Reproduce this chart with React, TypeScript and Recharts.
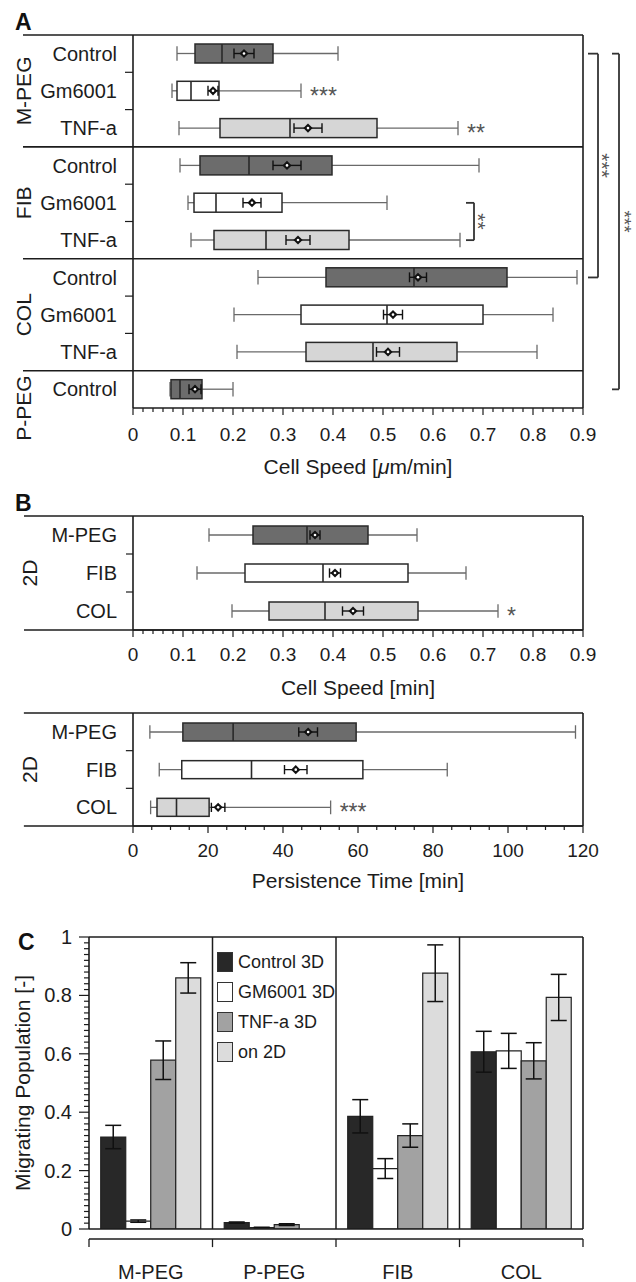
import React from 'react';
import { ComposedChart, BarChart, Bar, XAxis, YAxis, ReferenceLine, ErrorBar, Legend, Label } from 'recharts';

const INK = '#1c1c1c';
const FONT = '"Liberation Sans", Arial, Helvetica, sans-serif';
const WHISKER = '#6a6a6a';
const EDGE = '#2a2a2a';
const DARK = '#6c6c6c';
const WHITE = '#ffffff';
const LIGHT = '#d6d6d6';

// ---------------- Panel A : 3D cell speed ----------------
const speedRowIds = ['mpeg-ctrl', 'mpeg-gm', 'mpeg-tnf', 'fib-ctrl', 'fib-gm', 'fib-tnf', 'col-ctrl', 'col-gm', 'col-tnf', 'ppeg-ctrl'];
const speedRowLabels = ['Control', 'Gm6001', 'TNF-a', 'Control', 'Gm6001', 'TNF-a', 'Control', 'Gm6001', 'TNF-a', 'Control'];
const speedMin = [0.088, 0.078, 0.092, 0.094, 0.110, 0.116, 0.250, 0.202, 0.208, 0.074];
const speedQ1 = [0.124, 0.088, 0.174, 0.134, 0.122, 0.162, 0.386, 0.336, 0.346, 0.076];
const speedMedian = [0.178, 0.116, 0.314, 0.232, 0.166, 0.266, 0.562, 0.508, 0.480, 0.094];
const speedQ3 = [0.280, 0.172, 0.488, 0.398, 0.298, 0.432, 0.748, 0.700, 0.648, 0.138];
const speedMax = [0.410, 0.336, 0.650, 0.692, 0.508, 0.654, 0.888, 0.840, 0.808, 0.200];
const speedMean = [0.222, 0.160, 0.350, 0.308, 0.238, 0.330, 0.570, 0.520, 0.510, 0.124];
const speedSem = [0.020, 0.010, 0.028, 0.028, 0.018, 0.024, 0.017, 0.019, 0.023, 0.012];
const speedSig = ['', '***', '**', '', '', '', '', '', '', ''];

// ---------------- Panel B : 2D speed & persistence ----------------
const planarRows = ['M-PEG', 'FIB', 'COL'];
const planarSpeedMin = [0.152, 0.128, 0.198];
const planarSpeedQ1 = [0.240, 0.224, 0.272];
const planarSpeedMedian = [0.348, 0.380, 0.384];
const planarSpeedQ3 = [0.470, 0.550, 0.570];
const planarSpeedMax = [0.568, 0.666, 0.730];
const planarSpeedMean = [0.364, 0.404, 0.440];
const planarSpeedSem = [0.010, 0.011, 0.021];
const planarSpeedSig = ['', '', '*'];

const persistMin = [4.5, 7.0, 4.7];
const persistQ1 = [13.3, 13.0, 6.4];
const persistMedian = [26.7, 31.6, 11.6];
const persistQ3 = [59.5, 61.3, 20.3];
const persistMax = [118.0, 83.8, 52.7];
const persistMean = [46.7, 43.4, 22.7];
const persistSem = [2.5, 3.0, 1.8];
const persistSig = ['', '', '***'];

// ---------------- Panel C : migrating population ----------------
const popGroups = ['M-PEG', 'P-PEG', 'FIB', 'COL'];
const popControl3D = [0.315, 0.022, 0.386, 0.607];
const popControl3DErr = [0.040, 0.002, 0.057, 0.070];
const popGm3D = [0.027, 0.005, 0.207, 0.610];
const popGm3DErr = [0.004, 0.001, 0.034, 0.060];
const popTnf3D = [0.578, 0.015, 0.320, 0.576];
const popTnf3DErr = [0.066, 0.003, 0.040, 0.062];
const pop2D = [0.860, null, 0.876, 0.793];
const pop2DErr = [0.052, null, 0.097, 0.079];

// ---------------- ticks ----------------
const speedMajorTicks = [0, 0.1, 0.2, 0.3, 0.4, 0.5, 0.6, 0.7, 0.8, 0.9];
const speedTickLabels = ['0', '0.1', '0.2', '0.3', '0.4', '0.5', '0.6', '0.7', '0.8', '0.9'];
const persistMajorTicks = [0, 20, 40, 60, 80, 100, 120];
const persistTickLabels = ['0', '20', '40', '60', '80', '100', '120'];
const popMajorTicks = [0, 0.2, 0.4, 0.6, 0.8, 1];
const popTickLabels = ['0', '0.2', '0.4', '0.6', '0.8', '1'];

const tickRange = (max: number, step: number) => {
  const out: number[] = [];
  const n = Math.round(max / step);
  for (let i = 0; i <= n; i++) out.push(Math.round(i * step * 10000) / 10000);
  return out;
};
const speedAllTicks = tickRange(0.9, 0.02);
const persistAllTicks = tickRange(120, 5);
const popAllTicks = tickRange(1, 0.02);

// ---------------- tables ----------------
const speedData = speedRowIds.map((id, i) => ({
  id, label: speedRowLabels[i], range: [speedMin[i], speedMax[i]], q1: speedQ1[i], median: speedMedian[i],
  q3: speedQ3[i], mean: speedMean[i], sem: speedSem[i], sig: speedSig[i],
}));
const planarSpeedData = planarRows.map((id, i) => ({
  id, label: id, range: [planarSpeedMin[i], planarSpeedMax[i]], q1: planarSpeedQ1[i], median: planarSpeedMedian[i],
  q3: planarSpeedQ3[i], mean: planarSpeedMean[i], sem: planarSpeedSem[i], sig: planarSpeedSig[i],
}));
const persistData = planarRows.map((id, i) => ({
  id, label: id, range: [persistMin[i], persistMax[i]], q1: persistQ1[i], median: persistMedian[i],
  q3: persistQ3[i], mean: persistMean[i], sem: persistSem[i], sig: persistSig[i],
}));
const popData = popGroups.map((group, i) => ({
  group, ctrl: popControl3D[i], ctrlErr: popControl3DErr[i], gm: popGm3D[i], gmErr: popGm3DErr[i],
  tnf: popTnf3D[i], tnfErr: popTnf3DErr[i], d2: pop2D[i], d2Err: pop2DErr[i],
}));

const treatmentTone: Record<string, string> = { Control: DARK, Gm6001: WHITE, 'TNF-a': LIGHT };
const substrateTone: Record<string, string> = { 'M-PEG': DARK, FIB: WHITE, COL: LIGHT };

// ---------------- renderers ----------------
const makeBoxShape = (fillOf: (d: any) => string) => (props: any) => {
  const { x, y, width, height, payload } = props;
  if (!payload) return null;
  const [lo, hi] = payload.range;
  const px = (v: number) => x + ((v - lo) / (hi - lo)) * width;
  const cy = y + height / 2;
  const capHalf = height * 0.38;
  const semHalf = height * 0.26;
  const xq1 = px(payload.q1);
  const xq3 = px(payload.q3);
  const xmed = px(payload.median);
  const xm = px(payload.mean);
  const xs1 = px(payload.mean - payload.sem);
  const xs2 = px(payload.mean + payload.sem);
  const d = 4.6;
  return (
    <g>
      <line x1={x} x2={xq1} y1={cy} y2={cy} stroke={WHISKER} strokeWidth={1.3} />
      <line x1={xq3} x2={x + width} y1={cy} y2={cy} stroke={WHISKER} strokeWidth={1.3} />
      <line x1={x} x2={x} y1={cy - capHalf} y2={cy + capHalf} stroke={WHISKER} strokeWidth={1.3} />
      <line x1={x + width} x2={x + width} y1={cy - capHalf} y2={cy + capHalf} stroke={WHISKER} strokeWidth={1.3} />
      <rect x={xq1} y={y} width={xq3 - xq1} height={height} fill={fillOf(payload)} stroke={EDGE} strokeWidth={1.5} />
      <line x1={xmed} x2={xmed} y1={y} y2={y + height} stroke={EDGE} strokeWidth={1.6} />
      <line x1={xs1} x2={xs2} y1={cy} y2={cy} stroke="#111" strokeWidth={1.4} />
      <line x1={xs1} x2={xs1} y1={cy - semHalf} y2={cy + semHalf} stroke="#111" strokeWidth={1.4} />
      <line x1={xs2} x2={xs2} y1={cy - semHalf} y2={cy + semHalf} stroke="#111" strokeWidth={1.4} />
      <polygon points={`${xm},${cy - d} ${xm + d},${cy} ${xm},${cy + d} ${xm - d},${cy}`} fill="#111" />
      <circle cx={xm} cy={cy} r={1.3} fill="#fff" />
      {payload.sig ? (
        <text x={x + width + 9} y={cy + 13} fontSize={23} fill="#555">{payload.sig}</text>
      ) : null}
    </g>
  );
};

const makeXTick = (majors: number[], labels: string[], labelDy: number) => (props: any) => {
  const { x, y, payload } = props;
  const idx = majors.findIndex((m) => Math.abs(m - payload.value) < 1e-6);
  const major = idx >= 0;
  return (
    <g>
      <line x1={x} x2={x} y1={y} y2={y + (major ? 7 : 4)} stroke={INK} strokeWidth={1.2} />
      {major ? (
        <text x={x} y={y + labelDy} textAnchor="middle" dominantBaseline="central" fontSize={19} fill={INK}>{labels[idx]}</text>
      ) : null}
    </g>
  );
};

const PopYTick = (props: any) => {
  const { x, y, payload } = props;
  const idx = popMajorTicks.findIndex((m) => Math.abs(m - payload.value) < 1e-6);
  const major = idx >= 0;
  return (
    <g>
      <line x1={x - (major ? 10 : 5)} x2={x} y1={y} y2={y} stroke={INK} strokeWidth={1.2} />
      {major ? (
        <text x={x - 17} y={y} textAnchor="end" dominantBaseline="central" fontSize={20} fill={INK}>{popTickLabels[idx]}</text>
      ) : null}
    </g>
  );
};

const PopXTick = (props: any) => (
  <text x={props.x} y={props.y + 43} textAnchor="middle" dominantBaseline="central" fontSize={20} fill={INK}>
    {props.payload.value}
  </text>
);

const axisTitle = (content: React.ReactNode, dy: number) => (p: any) => {
  const vb = p.viewBox || { x: 0, y: 0, width: 0, height: 0 };
  return (
    <text x={vb.x + vb.width / 2} y={vb.y + dy} textAnchor="middle" dominantBaseline="central" fontSize={21} fill={INK}>
      {content}
    </text>
  );
};

const popYTitle = (p: any) => {
  const vb = p.viewBox || { x: 0, y: 0, width: 0, height: 0 };
  const cx = vb.x + 22;
  const cy = vb.y + vb.height / 2;
  return (
    <text x={cx} y={cy} transform={`rotate(-90 ${cx} ${cy})`} textAnchor="middle" dominantBaseline="central" fontSize={21} fill={INK}>
      Migrating Population [-]
    </text>
  );
};

const renderPopLegend = (props: any) => {
  const items = props.payload || [];
  return (
    <div style={{ fontFamily: FONT }}>
      {items.map((it: any) => (
        <div key={it.value} style={{ display: 'flex', alignItems: 'center', height: 30 }}>
          <span style={{ display: 'inline-block', width: 14, height: 18, background: it.color, border: '1.5px solid #333', marginRight: 5 }} />
          <span style={{ fontSize: 18, color: INK, whiteSpace: 'nowrap' }}>{it.value}</span>
        </div>
      ))}
    </div>
  );
};

const letterStyle = (left: number, top: number): React.CSSProperties => ({
  position: 'absolute', left, top, fontSize: 23, lineHeight: '23px', fontWeight: 'bold', color: '#111', fontFamily: FONT,
});

const frame = { stroke: INK, strokeWidth: 1.6 };
const starLabel = (value: string, size = 21) => ({ value, position: 'center' as const, angle: 90, fontSize: size, fill: '#555' });
const groupLabel = (value: string) => ({ value, position: 'center' as const, angle: -90, fontSize: 21, fill: INK });

const boxShapeA = makeBoxShape((d) => treatmentTone[d.label]);
const boxShapeB = makeBoxShape((d) => substrateTone[d.label]);
const speedXTickA = makeXTick(speedMajorTicks, speedTickLabels, 26);
const speedXTickB = makeXTick(speedMajorTicks, speedTickLabels, 24);
const persistXTick = makeXTick(persistMajorTicks, persistTickLabels, 24);

const labelOfSpeed = (id: string) => speedData.find((r) => r.id === id)?.label ?? id;

export default function App() {
  return (
    <div style={{ position: 'absolute', left: 0, top: 0, width: 636, height: 1282, background: '#fff', fontFamily: FONT, color: INK, overflow: 'hidden' }}>
      <div style={letterStyle(15, 11)}>A</div>
      <div style={letterStyle(15, 492)}>B</div>
      <div style={letterStyle(18, 931)}>C</div>

      {/* Panel A */}
      <div style={{ position: 'absolute', left: 0, top: 0 }}>
        <ComposedChart width={636} height={480} data={speedData} layout="vertical" margin={{ top: 35, right: 53, bottom: 0, left: 0 }}>
          <XAxis type="number" domain={[0, 0.9]} ticks={speedAllTicks} interval={0} tickLine={false} tickSize={0} tickMargin={0}
            axisLine={frame} height={72} tick={speedXTickA} allowDataOverflow
            label={<Label content={axisTitle(<>Cell Speed [<tspan fontStyle="italic">μ</tspan>m/min]</>, 58)} />} />
          <YAxis type="category" dataKey="id" width={133} interval={0} tickLine={false} tickSize={0} tickMargin={16}
            axisLine={frame} tick={{ fontSize: 20, fill: INK }} tickFormatter={labelOfSpeed} />
          <Bar dataKey="range" barSize={19} shape={boxShapeA} isAnimationActive={false} />
          {/* frame and group separators */}
          {['mpeg-ctrl', 'fib-ctrl', 'col-ctrl', 'ppeg-ctrl'].map((id) => (
            <ReferenceLine key={'sep' + id} segment={[{ x: -0.22, y: id }, { x: 0.9, y: id }]} position="start" ifOverflow="visible" {...frame} />
          ))}
          <ReferenceLine x={0.9} ifOverflow="visible" {...frame} />
          {['mpeg-gm', 'mpeg-tnf', 'fib-gm', 'fib-tnf', 'col-gm', 'col-tnf'].map((id) => (
            <ReferenceLine key={'tk' + id} segment={[{ x: -0.016, y: id }, { x: 0, y: id }]} position="start" ifOverflow="visible" stroke={INK} strokeWidth={1.2} />
          ))}
          {/* group labels */}
          <ReferenceLine segment={[{ x: -0.219, y: 'mpeg-ctrl' }, { x: -0.219, y: 'mpeg-tnf' }]} ifOverflow="visible" stroke="none" label={groupLabel('M-PEG')} />
          <ReferenceLine segment={[{ x: -0.219, y: 'fib-ctrl' }, { x: -0.219, y: 'fib-tnf' }]} ifOverflow="visible" stroke="none" label={groupLabel('FIB')} />
          <ReferenceLine segment={[{ x: -0.219, y: 'col-ctrl' }, { x: -0.219, y: 'col-tnf' }]} ifOverflow="visible" stroke="none" label={groupLabel('COL')} />
          <ReferenceLine segment={[{ x: -0.219, y: 'ppeg-ctrl' }, { x: -0.219, y: 'ppeg-ctrl' }]} position="end" ifOverflow="visible" stroke="none" label={groupLabel('P-PEG')} />
          {/* FIB bracket */}
          <ReferenceLine segment={[{ x: 0.666, y: 'fib-gm' }, { x: 0.682, y: 'fib-gm' }]} ifOverflow="visible" stroke="#333" strokeWidth={1.8} />
          <ReferenceLine segment={[{ x: 0.682, y: 'fib-gm' }, { x: 0.682, y: 'fib-tnf' }]} ifOverflow="visible" stroke="#333" strokeWidth={1.8} />
          <ReferenceLine segment={[{ x: 0.666, y: 'fib-tnf' }, { x: 0.682, y: 'fib-tnf' }]} ifOverflow="visible" stroke="#333" strokeWidth={1.8} />
          <ReferenceLine segment={[{ x: 0.691, y: 'fib-gm' }, { x: 0.691, y: 'fib-tnf' }]} ifOverflow="visible" stroke="none" label={starLabel('**')} />
          {/* M-PEG vs COL bracket */}
          <ReferenceLine segment={[{ x: 0.91, y: 'mpeg-ctrl' }, { x: 0.93, y: 'mpeg-ctrl' }]} ifOverflow="visible" stroke="#333" strokeWidth={1.8} />
          <ReferenceLine segment={[{ x: 0.93, y: 'mpeg-ctrl' }, { x: 0.93, y: 'col-ctrl' }]} ifOverflow="visible" stroke="#333" strokeWidth={1.8} />
          <ReferenceLine segment={[{ x: 0.91, y: 'col-ctrl' }, { x: 0.93, y: 'col-ctrl' }]} ifOverflow="visible" stroke="#333" strokeWidth={1.8} />
          <ReferenceLine segment={[{ x: 0.939, y: 'mpeg-ctrl' }, { x: 0.939, y: 'col-ctrl' }]} ifOverflow="visible" stroke="none" label={starLabel('***')} />
          {/* M-PEG vs P-PEG bracket */}
          <ReferenceLine segment={[{ x: 0.958, y: 'mpeg-ctrl' }, { x: 0.972, y: 'mpeg-ctrl' }]} ifOverflow="visible" stroke="#333" strokeWidth={1.8} />
          <ReferenceLine segment={[{ x: 0.972, y: 'mpeg-ctrl' }, { x: 0.972, y: 'ppeg-ctrl' }]} ifOverflow="visible" stroke="#333" strokeWidth={1.8} />
          <ReferenceLine segment={[{ x: 0.958, y: 'ppeg-ctrl' }, { x: 0.972, y: 'ppeg-ctrl' }]} ifOverflow="visible" stroke="#333" strokeWidth={1.8} />
          <ReferenceLine segment={[{ x: 0.983, y: 'fib-gm' }, { x: 0.983, y: 'fib-tnf' }]} ifOverflow="visible" stroke="none" label={starLabel('***', 19)} />
        </ComposedChart>
      </div>

      {/* Panel B : 2D speed */}
      <div style={{ position: 'absolute', left: 0, top: 480 }}>
        <ComposedChart width={636} height={220} data={planarSpeedData} layout="vertical" margin={{ top: 36, right: 53, bottom: 0, left: 0 }}>
          <XAxis type="number" domain={[0, 0.9]} ticks={speedAllTicks} interval={0} tickLine={false} tickSize={0} tickMargin={0}
            axisLine={frame} height={70} tick={speedXTickB} allowDataOverflow
            label={<Label content={axisTitle('Cell Speed [min]', 57)} />} />
          <YAxis type="category" dataKey="id" width={133} interval={0} tickLine={false} tickSize={0} tickMargin={16}
            axisLine={frame} tick={{ fontSize: 20, fill: INK }} />
          <Bar dataKey="range" barSize={18} shape={boxShapeB} isAnimationActive={false} />
          <ReferenceLine segment={[{ x: -0.218, y: 'M-PEG' }, { x: 0.9, y: 'M-PEG' }]} position="start" ifOverflow="visible" {...frame} />
          <ReferenceLine segment={[{ x: -0.218, y: 'COL' }, { x: 0.9, y: 'COL' }]} position="end" ifOverflow="visible" {...frame} />
          <ReferenceLine x={0.9} ifOverflow="visible" {...frame} />
          {['FIB', 'COL'].map((id) => (
            <ReferenceLine key={'tb' + id} segment={[{ x: -0.014, y: id }, { x: 0, y: id }]} position="start" ifOverflow="visible" stroke={INK} strokeWidth={1.2} />
          ))}
          <ReferenceLine segment={[{ x: -0.206, y: 'M-PEG' }, { x: -0.206, y: 'COL' }]} ifOverflow="visible" stroke="none" label={groupLabel('2D')} />
        </ComposedChart>
      </div>

      {/* Panel B : persistence */}
      <div style={{ position: 'absolute', left: 0, top: 700 }}>
        <ComposedChart width={636} height={196} data={persistData} layout="vertical" margin={{ top: 13, right: 53, bottom: 0, left: 0 }}>
          <XAxis type="number" domain={[0, 120]} ticks={persistAllTicks} interval={0} tickLine={false} tickSize={0} tickMargin={0}
            axisLine={frame} height={70} tick={persistXTick} allowDataOverflow
            label={<Label content={axisTitle('Persistence Time [min]', 54)} />} />
          <YAxis type="category" dataKey="id" width={133} interval={0} tickLine={false} tickSize={0} tickMargin={16}
            axisLine={frame} tick={{ fontSize: 20, fill: INK }} />
          <Bar dataKey="range" barSize={18} shape={boxShapeB} isAnimationActive={false} />
          <ReferenceLine segment={[{ x: -29.1, y: 'M-PEG' }, { x: 120, y: 'M-PEG' }]} position="start" ifOverflow="visible" {...frame} />
          <ReferenceLine segment={[{ x: -29.1, y: 'COL' }, { x: 120, y: 'COL' }]} position="end" ifOverflow="visible" {...frame} />
          <ReferenceLine x={120} ifOverflow="visible" {...frame} />
          {['FIB', 'COL'].map((id) => (
            <ReferenceLine key={'tp' + id} segment={[{ x: -1.9, y: id }, { x: 0, y: id }]} position="start" ifOverflow="visible" stroke={INK} strokeWidth={1.2} />
          ))}
          <ReferenceLine segment={[{ x: -27.5, y: 'M-PEG' }, { x: -27.5, y: 'COL' }]} ifOverflow="visible" stroke="none" label={groupLabel('2D')} />
        </ComposedChart>
      </div>

      {/* Panel C */}
      <div style={{ position: 'absolute', left: 0, top: 896 }}>
        <BarChart width={636} height={386} data={popData} margin={{ top: 41, right: 53, bottom: 0, left: 0 }} barCategoryGap="9.5%" barGap={0}>
          <XAxis dataKey="group" height={53} axisLine={frame} tickLine={false} tickSize={0} tickMargin={0} interval={0} tick={PopXTick} />
          <YAxis type="number" domain={[0, 1]} ticks={popAllTicks} interval={0} width={89} axisLine={frame} tickLine={false}
            tickSize={0} tickMargin={0} tick={PopYTick} allowDataOverflow label={<Label content={popYTitle} />} />
          <Legend layout="vertical" align="center" verticalAlign="middle" wrapperStyle={{ left: 217, top: 51, width: 140 }} content={renderPopLegend} />
          <Bar dataKey="ctrl" name="Control 3D" fill="#282828" stroke="#222" strokeWidth={1.2} isAnimationActive={false}>
            <ErrorBar dataKey="ctrlErr" width={8} stroke="#111" strokeWidth={1.5} />
          </Bar>
          <Bar dataKey="gm" name="GM6001 3D" fill="#ffffff" stroke="#222" strokeWidth={1.2} isAnimationActive={false}>
            <ErrorBar dataKey="gmErr" width={8} stroke="#111" strokeWidth={1.5} />
          </Bar>
          <Bar dataKey="tnf" name="TNF-a 3D" fill="#a2a2a2" stroke="#222" strokeWidth={1.2} isAnimationActive={false}>
            <ErrorBar dataKey="tnfErr" width={8} stroke="#111" strokeWidth={1.5} />
          </Bar>
          <Bar dataKey="d2" name="on 2D" fill="#dcdcdc" stroke="#222" strokeWidth={1.2} isAnimationActive={false}>
            <ErrorBar dataKey="d2Err" width={8} stroke="#111" strokeWidth={1.5} />
          </Bar>
          <ReferenceLine y={1} ifOverflow="visible" {...frame} />
          {['P-PEG', 'FIB', 'COL'].map((g) => (
            <ReferenceLine key={'sc' + g} x={g} position="start" ifOverflow="visible" stroke={INK} strokeWidth={1.5} />
          ))}
          <ReferenceLine x="COL" position="end" ifOverflow="visible" {...frame} />
          <ReferenceLine y={-0.0342} ifOverflow="visible" stroke={INK} strokeWidth={1.5} />
          {popGroups.map((g) => (
            <ReferenceLine key={'gt' + g} segment={[{ x: g, y: -0.0342 }, { x: g, y: -0.062 }]} position="start" ifOverflow="visible" stroke={INK} strokeWidth={1.3} />
          ))}
          <ReferenceLine segment={[{ x: 'COL', y: -0.0342 }, { x: 'COL', y: -0.062 }]} position="end" ifOverflow="visible" stroke={INK} strokeWidth={1.3} />
        </BarChart>
      </div>
    </div>
  );
}
